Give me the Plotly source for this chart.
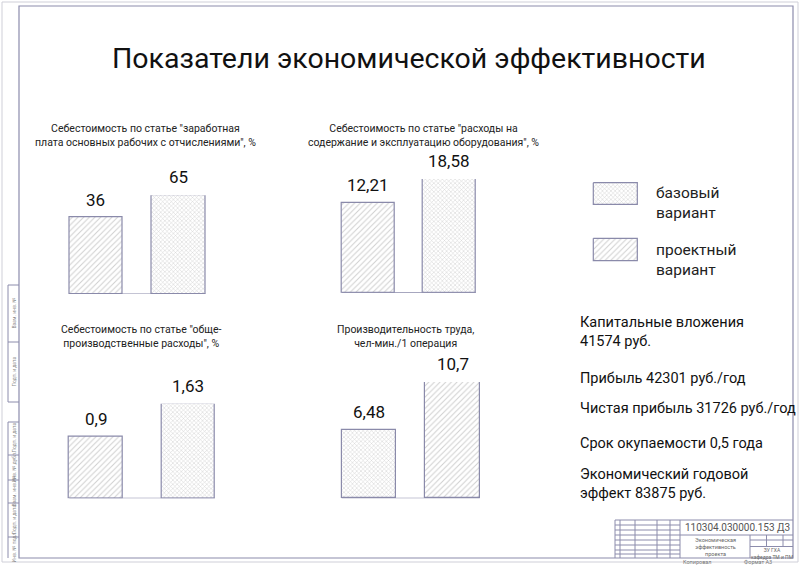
import plotly.graph_objects as go

# chart values
titles = [
    "Себестоимость по статье \"заработная<br>плата основных рабочих с отчислениями\", %",
    "Себестоимость по статье \"расходы на<br>содержание и эксплуатацию оборудования\", %",
    "Себестоимость по статье \"обще-<br>производственные расходы\", %",
    "Производительность труда,<br>чел-мин./1 операция",
]
base_values = [65, 18.58, 1.63, 6.48]      # базовый вариант
project_values = [36, 12.21, 0.9, 10.7]    # проектный вариант
series_names = ["базовый<br>вариант", "проектный<br>вариант"]

summary_lines = [
    "Капитальные вложения<br>41574 руб.",
    "Прибыль 42301 руб./год",
    "Чистая прибыль 31726 руб./год",
    "Срок окупаемости 0,5 года",
    "Экономический годовой<br>эффект 83875 руб.",
]
main_title = "Показатели экономической эффективности"
doc_code = "110304.030000.153 Д3"

# layout of the sheet (pixels of the 800x565 page)
W, H = 800, 565
FONT = "Roboto, Liberation Sans, sans-serif"
OUTLINE = "#8a8aaa"
HATCH = "#a0a0a0"
FRAME = "#8c8cac"

base_slot = [1, 1, 1, 0]                  # where the базовый bar stands in each chart
bar_floor = [-63, -12, -0.44, 0.54]       # value at the drawn baseline
bar_width = [0.647, 0.658, 0.578, 0.65]
x_dom_px = [(54.6, 220.0), (327.8, 489.8), (49.8, 234.4), (327.0, 494.4)]
y_dom_px = [(294.0, 195.3), (292.7, 179.0), (498.3, 403.7), (498.3, 382.0)]
title_pos = [(145, 135), (423, 135), (141, 336), (406, 336)]


def px(x):
    return x / W


def py(y):
    return 1 - y / H


fig = go.Figure()
annotations = []
shapes = []

patterns = [dict(shape="x", size=3, solidity=0.3, fgcolor=HATCH, bgcolor="white"),
            dict(shape="/", size=4, solidity=0.25, fgcolor=HATCH, bgcolor="white")]


def note(x, y, text, size, color="#111", xanchor="center", align="center", **kw):
    annotations.append(dict(x=px(x), y=py(y), xref="paper", yref="paper", text=text,
                            showarrow=False, xanchor=xanchor, yanchor="middle",
                            align=align, font=dict(size=size, color=color, family=FONT),
                            **kw))


for i in range(4):
    n = "" if i == 0 else str(i + 1)
    w = bar_width[i]
    floor = bar_floor[i]
    slots = [base_slot[i], 1 - base_slot[i]]
    vals = [base_values[i], project_values[i]]
    for k in range(2):
        fig.add_trace(go.Bar(
            x=[slots[k]], y=[vals[k] - floor], base=floor, width=w,
            xaxis="x" + n, yaxis="y" + n,
            marker=dict(color="white", pattern=patterns[k],
                        line=dict(color=OUTLINE, width=1.2)),
            showlegend=False, hoverinfo="skip",
        ))
        annotations.append(dict(
            x=slots[k], y=vals[k], xref="x" + n, yref="y" + n,
            text=str(vals[k]).replace(".", ","), showarrow=False,
            xanchor="center", yanchor="bottom", yshift=6,
            font=dict(size=17, color="#111", family=FONT),
        ))
    shapes.append(dict(type="line", xref="x" + n, yref="y" + n,
                       x0=-w / 2, x1=1 + w / 2, y0=floor, y1=floor,
                       line=dict(color=OUTLINE, width=1.2)))
    fig.update_layout(**{
        "xaxis" + n: dict(domain=[px(x_dom_px[i][0]), px(x_dom_px[i][1])],
                          range=[-0.5, 1.5], visible=False, fixedrange=True),
        "yaxis" + n: dict(domain=[py(y_dom_px[i][0]), py(y_dom_px[i][1])],
                          range=[floor, max(vals)], visible=False, fixedrange=True),
    })
    note(title_pos[i][0], title_pos[i][1], titles[i], 10.5, color="#222")

# legend swatches
fig.update_layout(
    xaxis5=dict(domain=[0, 1], range=[0, W], visible=False, fixedrange=True),
    yaxis5=dict(domain=[0, 1], range=[H, 0], visible=False, fixedrange=True),
)
swatch_y = [(182.7, 204.3), (238.3, 260.7)]
for k in range(2):
    y0, y1 = swatch_y[k]
    fig.add_trace(go.Scatter(
        x=[593.3, 637.3, 637.3, 593.3, 593.3], y=[y0, y0, y1, y1, y0],
        xaxis="x5", yaxis="y5", mode="lines", fill="toself",
        fillcolor="white", fillpattern=patterns[k],
        line=dict(color=OUTLINE, width=1.2), showlegend=False, hoverinfo="skip",
    ))
    note(654, (y0 + y1) / 2 + 10, series_names[k], 15.5, color="#222",
         xanchor="left", align="left")

summary_y = [332, 378, 408, 443, 484]
for t, y in zip(summary_lines, summary_y):
    note(578, y, t, 14.5, xanchor="left", align="left")

note(409, 58, main_title, 28.5)


def line(x0, y0, x1, y1, color=FRAME, width=1):
    shapes.append(dict(type="line", xref="paper", yref="paper",
                       x0=px(x0), y0=py(y0), x1=px(x1), y1=py(y1),
                       line=dict(color=color, width=width)))


# sheet border and drawing frame
shapes.append(dict(type="rect", xref="paper", yref="paper", x0=px(2), x1=px(798),
                   y0=py(562), y1=py(2), line=dict(color="#cfcfd8", width=1)))
shapes.append(dict(type="rect", xref="paper", yref="paper", x0=px(19), x1=px(793),
                   y0=py(558), y1=py(6), line=dict(color=FRAME, width=1.2)))

# binding strip on the left
line(8, 285, 8, 402)
line(8, 285, 19, 285)
line(8, 342, 19, 342)
line(8, 402, 19, 402)
line(8, 422, 8, 558)
for y in (422, 455, 480, 503, 537):
    line(8, y, 19, y)
strip_text = [("Взам. инв. №", 313), ("Подп. и дата", 372), ("Подп. и дата", 438),
              ("Инв. № дубл.", 467), ("Взам. инв. №", 491), ("Подп. и дата", 520),
              ("Инв. № подл.", 547)]
for t, y in strip_text:
    note(13.5, y, t, 5, color="#888", textangle=-90)

# title block
line(615, 520, 793, 520)
line(615, 520, 615, 558)
line(615, 535, 793, 535)
line(680, 520, 680, 558)
for x in (620, 635, 657, 670):
    line(x, 520, x, 558)
for y in (525, 530, 540, 545, 550, 554):
    line(615, y, 680, y)
line(750, 535, 750, 558)
line(750, 540, 793, 540)
line(750, 546.5, 793, 546.5)
line(766.5, 535, 766.5, 546.5)
line(783, 535, 783, 546.5)

note(737, 527.5, doc_code, 10, color="#555")
note(715, 546.5, "Экономическая<br>эффективность<br>проекта", 5.5, color="#666")
note(771.5, 553, "ЗУ ГХА<br>кафедра ТМ и ПМ", 5, color="#666")
note(697, 562, "Копировал", 5.5, color="#777")
note(758, 562, "Формат А3", 5.5, color="#777")

fig.update_layout(
    width=W, height=H, margin=dict(l=0, r=0, t=0, b=0),
    paper_bgcolor="white", plot_bgcolor="rgba(0,0,0,0)",
    annotations=annotations, shapes=shapes, bargap=0, showlegend=False,
    font=dict(family=FONT),
)

fig.write_html("out.html", config={"displayModeBar": False},
               post_script="document.body.style.margin = '0px';")
